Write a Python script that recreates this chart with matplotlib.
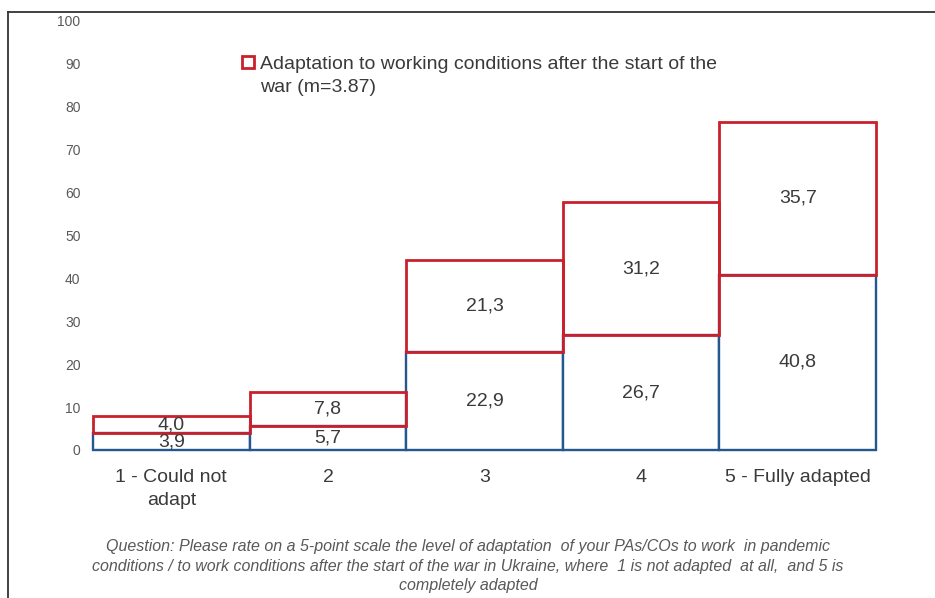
import numpy as np
import matplotlib.pyplot as plt
from matplotlib.lines import Line2D

plt.rcParams['font.family'] = ['Liberation Sans', 'DejaVu Sans']

# данные
categories = ['1 - Could not\nadapt', '2', '3', '4', '5 - Fully adapted']
pandemic = [3.9, 5.7, 22.9, 26.7, 40.8]
war = [4.0, 7.8, 21.3, 31.2, 35.7]
war_label = 'Adaptation to working conditions after the start of the\nwar (m=3.87)'
pandemic_label = 'Adaptation to working conditions in pandemic'
caption = ('Question: Please rate on a 5-point scale the level of adaptation  of your PAs/COs to work  in pandemic\n'
           'conditions / to work conditions after the start of the war in Ukraine, where  1 is not adapted  at all,  and 5 is\n'
           'completely adapted')

blue = '#22588F'
red = '#C9202C'
txt = '#3A3A3A'

fig = plt.figure(figsize=(9.35, 5.98), dpi=100)
ax = fig.add_axes([0.0995, 0.2475, 0.8375, 0.7174])

x = np.arange(len(categories))
b1 = ax.bar(x, pandemic, width=1.0, facecolor='white', edgecolor=blue, linewidth=1.7,
            label=pandemic_label, zorder=2, clip_on=False)
b2 = ax.bar(x, war, width=1.0, bottom=pandemic, facecolor='none', edgecolor=red, linewidth=2.0,
            label=war_label, zorder=3, clip_on=False)

# подписи значений
for i in range(len(x)):
    ax.text(x[i], pandemic[i] / 2, f'{pandemic[i]:.1f}'.replace('.', ','), ha='center', va='center',
            fontsize=14, color=txt, zorder=4)
    ax.text(x[i], pandemic[i] + war[i] / 2, f'{war[i]:.1f}'.replace('.', ','), ha='center', va='center',
            fontsize=14, color=txt, zorder=4)

ax.set_xlim(-0.5, len(x) - 0.5)
ax.set_ylim(0, 100)
ax.set_yticks(range(0, 101, 10))
ax.set_xticks(x)
ax.set_xticklabels(categories, fontsize=14, color=txt, linespacing=1.4)
ax.tick_params(axis='y', length=0, pad=9, labelsize=10, labelcolor='#595959')
ax.tick_params(axis='x', length=0, pad=14)
for s in ax.spines.values():
    s.set_visible(False)

leg = ax.legend(handles=[b2], loc='upper left', bbox_to_anchor=(0.259, 0.907),
                bbox_transform=fig.transFigure, frameon=False, fontsize=14,
                handlelength=0.6, handleheight=0.6, handletextpad=0.3, borderpad=0, borderaxespad=0)
for t in leg.get_texts():
    t.set_color(txt)
    t.set_linespacing(1.5)
# маркер легенды напротив первой строки
for col in leg._legend_handle_box.get_children():
    for item in col.get_children():
        item.align = 'top'

fig.text(0.5005, 1 - 566 / 598, caption, ha='center', va='center', fontsize=11.5, style='italic',
         color='#595959', linespacing=1.36)

# рамка
fig.add_artist(Line2D([8 / 935, 1], [1 - 12 / 598, 1 - 12 / 598], transform=fig.transFigure,
                      color='#333333', linewidth=1.3))
fig.add_artist(Line2D([8 / 935, 8 / 935], [0, 1 - 12 / 598], transform=fig.transFigure,
                      color='#333333', linewidth=1.3))

fig.savefig('out.png', dpi=100)
